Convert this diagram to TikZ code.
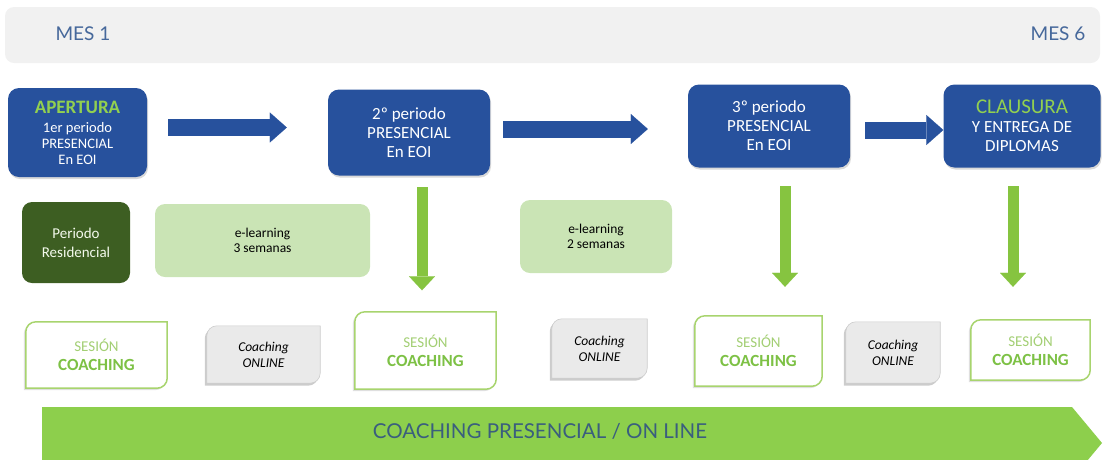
\documentclass[tikz,border=0pt]{standalone}
\usepackage{fontspec}
\setmainfont{Carlito}
\newfontfamily\lato{Lato}
\usepackage{tikz}
\usetikzlibrary{arrows.meta,backgrounds,positioning,shadows}
\definecolor{azuleoi}{HTML}{27519D}
\definecolor{verdetit}{HTML}{92D050}
\definecolor{verdeosc}{HTML}{3D5E22}
\definecolor{verdeclaro}{HTML}{CAE4B5}
\definecolor{verdeflecha}{HTML}{86C440}
\definecolor{verdebanda}{HTML}{8DCF4C}
\definecolor{verdebord}{HTML}{A8D46E}
\definecolor{verdeses}{HTML}{7DC145}
\definecolor{verdesesl}{HTML}{A3CF74}
\definecolor{grisbarra}{HTML}{F1F1F1}
\definecolor{grisonline}{HTML}{EAEAEA}
\definecolor{azulmes}{HTML}{46689B}
\definecolor{azulbanda}{HTML}{3A5E7E}
\newcommand{\coin}[2]{%
\begin{scope}[on background layer]
\draw[#2] (#1.west) [rounded corners=10pt] -- (#1.north west) -- (#1.north)
  [sharp corners] -- (#1.north east) -- (#1.east)
  [rounded corners=10pt] -- (#1.south east) -- (#1.south)
  [sharp corners] -- (#1.south west) -- cycle;
\end{scope}}

\begin{document}
\begin{tikzpicture}[x=1pt, y=-1pt,
  bloque/.style={rounded corners=11pt, fill=azuleoi, text=white, align=center, inner sep=0pt,
    drop shadow={shadow xshift=1pt, shadow yshift=-2pt, opacity=.3}},
  mes/.style={text=azulmes, font=\lato\fontsize{19}{24}\selectfont},
  elearn/.style={rounded corners=10pt, fill=verdeclaro, align=center, inner sep=0pt, font=\fontsize{13.5}{15}\selectfont},
  sesion/.style={align=center, inner sep=0pt, font=\fontsize{15}{19}\selectfont},
  online/.style={align=center, inner sep=0pt, font=\fontsize{13.5}{16}\selectfont\itshape},
  bordses/.style={draw=verdebord, line width=1.5pt, fill=white,
    drop shadow={shadow xshift=-2pt, shadow yshift=-2pt, opacity=.25}},
  bordonl/.style={draw=gray!40, line width=.6pt, fill=grisonline,
    drop shadow={shadow xshift=-2pt, shadow yshift=-2.5pt, opacity=.4}},
  flechah/.style={draw=azuleoi, line width=17pt, -{Triangle[length=17pt, width=30pt, line width=.1pt]}},
  flechev/.style={draw=verdeflecha, line width=11pt, -{Triangle[length=14pt, width=26pt, line width=.1pt]}}]
\useasboundingbox (0,0) rectangle (1105,459);
\clip (0,0) rectangle (1105,459);
\node (barra) [fill=grisbarra, rounded corners=9pt, minimum width=1095pt, minimum height=56pt] at (552.5,35) {};
\node (mes1) [mes] at (83,34) {MES 1};
\node (mes6) [mes] at (1058,34) {MES 6};

\node (noeudapertura) [bloque, minimum width=139pt, minimum height=89pt, font=\fontsize{14.5}{16}\selectfont] at (77.5,132.5)
  {\textcolor{verdetit}{\fontsize{19}{22}\selectfont\bfseries APERTURA}\\[3pt]1er periodo\\PRESENCIAL\\En EOI};
\node (noeudp2) [bloque, minimum width=162pt, minimum height=86pt, font=\fontsize{17}{19}\selectfont] at (409,132.5)
  {2º periodo\\PRESENCIAL\\En EOI};
\node (noeudp3) [bloque, minimum width=162pt, minimum height=83pt, font=\fontsize{17}{19}\selectfont] at (769,126)
  {3º periodo\\PRESENCIAL\\En EOI};
\node (noeudclausura) [bloque, minimum width=157pt, minimum height=83pt, font=\fontsize{17}{19}\selectfont] at (1022,126)
  {\textcolor{verdetit}{\fontsize{21}{23}\selectfont CLAUSURA}\\Y ENTREGA DE\\DIPLOMAS};

\draw[flechah] ([xshift=21pt, yshift=5pt]noeudapertura.east) -- ([xshift=-41pt, yshift=5pt]noeudp2.west);
\draw[flechah] ([xshift=13pt, yshift=3.5pt]noeudp2.east) -- ([xshift=-40pt, yshift=-3pt]noeudp3.west);
\draw[flechah] ([xshift=15pt, yshift=-4pt]noeudp3.east) -- ([yshift=-4pt]noeudclausura.west);

\node (noeudres) [rounded corners=10pt, fill=verdeosc, text=white!90!verdetit, align=center, inner sep=0pt,
  minimum width=108pt, minimum height=81pt, font=\fontsize{15}{19}\selectfont] at (76,242.5) {Periodo\\Residencial};
\node (noeudel3) [elearn, minimum width=215pt, minimum height=73pt] at (262.5,240.5) {e-learning\\3 semanas};
\node (noeudel2) [elearn, minimum width=152pt, minimum height=73pt] at (596,236.5) {e-learning\\2 semanas};

\node (noeudses1) [sesion, minimum width=141pt, minimum height=66pt] at (96.5,355)
  {\textcolor{verdesesl}{SESIÓN}\\\textcolor{verdeses}{\fontsize{17}{19}\selectfont\bfseries COACHING}};
\node (noeudonl1) [online, minimum width=113pt, minimum height=57pt] at (263.5,354.5) {Coaching\\ONLINE};
\node (noeudses2) [sesion, minimum width=141pt, minimum height=77pt] at (425.5,350.5)
  {\textcolor{verdesesl}{SESIÓN}\\\textcolor{verdeses}{\fontsize{17}{19}\selectfont\bfseries COACHING}};
\node (noeudonl2) [online, minimum width=95pt, minimum height=59pt] at (599.5,348.5) {Coaching\\ONLINE};
\node (noeudses3) [sesion, minimum width=127pt, minimum height=70pt] at (758.5,351)
  {\textcolor{verdesesl}{SESIÓN}\\\textcolor{verdeses}{\fontsize{17}{19}\selectfont\bfseries COACHING}};
\node (noeudonl3) [online, minimum width=94pt, minimum height=61pt] at (893,352.5) {Coaching\\ONLINE};
\node (noeudses4) [sesion, minimum width=119pt, minimum height=60pt] at (1030.5,350)
  {\textcolor{verdesesl}{SESIÓN}\\\textcolor{verdeses}{\fontsize{17}{19}\selectfont\bfseries COACHING}};
\coin{noeudses1}{bordses}
\coin{noeudses2}{bordses}
\coin{noeudses3}{bordses}
\coin{noeudses4}{bordses}
\coin{noeudonl1}{bordonl}
\coin{noeudonl2}{bordonl}
\coin{noeudonl3}{bordonl}

\draw[flechev] ([xshift=13pt, yshift=-11.5pt]noeudp2.south) -- ([xshift=-3.5pt, yshift=21.5pt]noeudses2.north);
\draw[flechev] ([xshift=16pt, yshift=-18.5pt]noeudp3.south) -- ([xshift=26.5pt, yshift=29pt]noeudses3.north);
\draw[flechev] ([xshift=-9pt, yshift=-18.5pt]noeudclausura.south) -- ([xshift=-17.5pt, yshift=33pt]noeudses4.north);

\fill[verdebanda] (42,407) -- (1072,407) -- (1102,443) -- (1072,479) -- (42,479) -- cycle;
\node (noeudbande) [text=azulbanda, font=\lato\fontsize{20.5}{24}\selectfont] at (540,431) {COACHING PRESENCIAL / ON LINE};
\end{tikzpicture}
\end{document}
